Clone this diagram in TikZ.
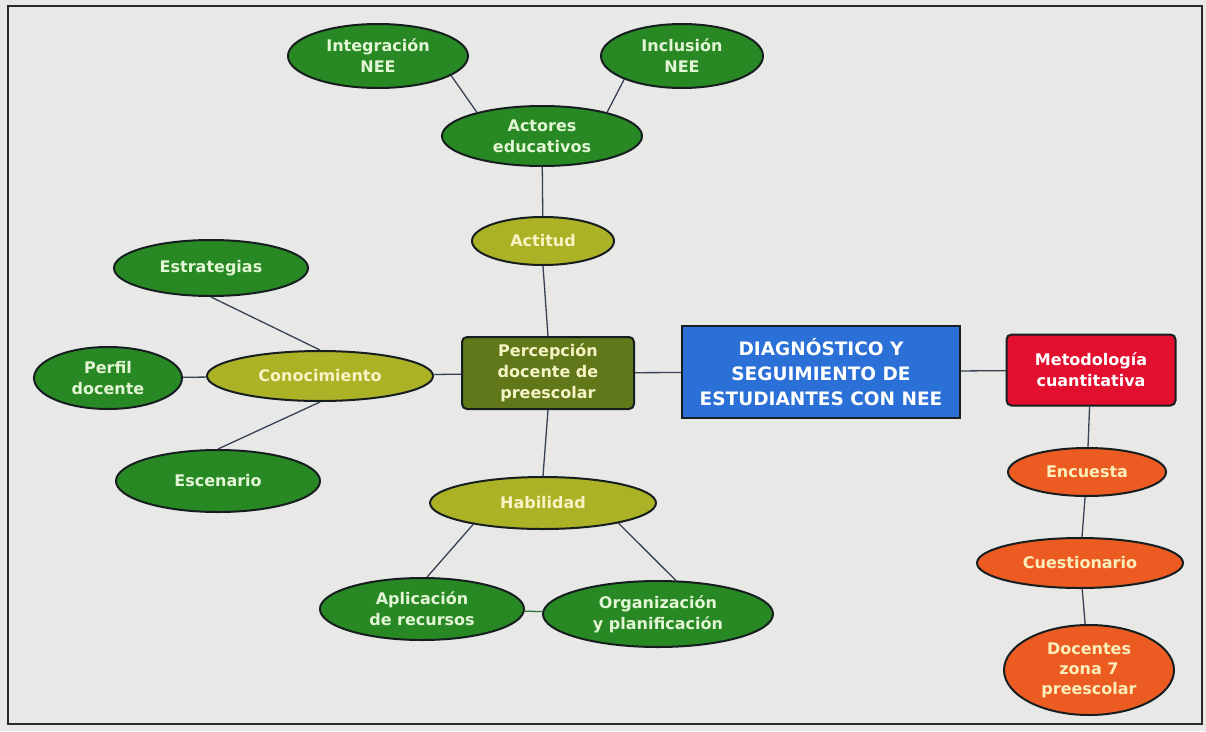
\documentclass[tikz,border=0pt]{standalone}
\usepackage{fontspec}
\setmainfont{DejaVu Sans}
\usetikzlibrary{shapes.geometric, positioning}
\definecolor{fondo}{RGB}{232, 233, 230}
\definecolor{marco}{RGB}{40, 40, 40}
\definecolor{tinta}{RGB}{22, 30, 32}
\definecolor{linea}{RGB}{55, 65, 85}
\definecolor{verde}{RGB}{40, 136, 36}
\definecolor{verdetxt}{RGB}{226, 245, 212}
\definecolor{oliva}{RGB}{172, 178, 38}
\definecolor{olivatxt}{RGB}{246, 244, 196}
\definecolor{musgo}{RGB}{96, 120, 26}
\definecolor{azul}{RGB}{42, 112, 214}
\definecolor{rojo}{RGB}{226, 16, 46}
\definecolor{naranja}{RGB}{236, 92, 34}
\definecolor{naranjatxt}{RGB}{252, 238, 186}

\tikzset{
  base/.style={draw=tinta, line width=2pt, align=center, inner sep=1pt,
    font=\fontsize{16}{21}\selectfont\bfseries},
  hoja/.style={base, ellipse, fill=verde, text=verdetxt},
  eje/.style={base, ellipse, fill=oliva, text=olivatxt},
  paso/.style={base, ellipse, fill=naranja, text=naranjatxt},
  caja/.style={base, rectangle, rounded corners=5pt},
  enlace/.style={draw=linea, line width=1.3pt}
}

\begin{document}
\begin{tikzpicture}[x=1pt, y=-1pt]
  \useasboundingbox (0,0) rectangle (1206,731);
  \fill[fondo] (0,0) rectangle (1206,731);
  \draw[marco, line width=1.8pt] (8,6) rectangle (1202,724);

  \node[hoja, minimum width=180pt, minimum height=64pt] (integ) at (378,56) {Integración\\NEE};
  \node[hoja, minimum width=162pt, minimum height=64pt] (inclu) at (682,56) {Inclusión\\NEE};
  \node[hoja, minimum width=200pt, minimum height=60pt] (actores) at (542,136) {Actores\\educativos};
  \node[eje, minimum width=142pt, minimum height=48pt] (actitud) at (543,241) {Actitud};
  \node[hoja, minimum width=194pt, minimum height=56pt] (estrat) at (211,268) {Estrategias};
  \node[hoja, minimum width=148pt, minimum height=62pt] (perfil) at (108,378) {Perfil\\docente};
  \node[eje, minimum width=226pt, minimum height=50pt] (conoc) at (320,376) {Conocimiento};
  \node[hoja, minimum width=204pt, minimum height=62pt] (escen) at (218,481) {Escenario};
  \node[caja, fill=musgo, text=olivatxt, minimum width=172pt, minimum height=72pt] (percep) at (548,373) {Percepción\\docente de\\preescolar};
  \node[base, fill=azul, text=white, minimum width=278pt, minimum height=92pt,
    font=\fontsize{18.5}{25}\selectfont\bfseries] (diag) at (821,372) {DIAGNÓSTICO Y\\SEGUIMIENTO DE\\ESTUDIANTES CON NEE};
  \node[caja, fill=rojo, text=white, minimum width=169pt, minimum height=71pt] (metodo) at (1091,370) {Metodología\\cuantitativa};
  \node[paso, minimum width=158pt, minimum height=48pt] (encuesta) at (1087,472) {Encuesta};
  \node[paso, minimum width=206pt, minimum height=50pt] (cuest) at (1080,563) {Cuestionario};
  \node[paso, minimum width=170pt, minimum height=90pt, font=\fontsize{16}{20}\selectfont\bfseries] (docentes) at (1089,670) {Docentes\\zona 7\\preescolar};
  \node[eje, minimum width=226pt, minimum height=52pt] (habil) at (543,503) {Habilidad};
  \node[hoja, minimum width=204pt, minimum height=62pt] (aplic) at (422,609) {Aplicación\\de recursos};
  \node[hoja, minimum width=230pt, minimum height=66pt] (organ) at (658,614) {Organización\\y planificación};

  \draw[enlace] (integ.-15) -- (actores.160);
  \draw[enlace] (inclu.-158) -- (actores.20);
  \draw[enlace] (actores) -- (actitud);
  \draw[enlace] (actitud.south) -- (percep.north);
  \draw[enlace] (percep) -- (conoc);
  \draw[enlace] (estrat.south) -- (conoc.north);
  \draw[enlace] (perfil) -- (conoc);
  \draw[enlace] (escen.north) -- (conoc.south);
  \draw[enlace] (percep.south) -- (habil.north);
  \draw[enlace] (habil.-163) -- (aplic.81);
  \draw[enlace] (habil.-15) -- (organ.62);
  \draw[enlace, draw=verde!60!linea] (aplic) -- (organ);
  \draw[enlace] (percep) -- (diag);
  \draw[enlace] (diag) -- (metodo);
  \draw[enlace] (metodo) -- (encuesta);
  \draw[enlace] (encuesta) -- (cuest);
  \draw[enlace] (cuest) -- (docentes);
\end{tikzpicture}
\end{document}
